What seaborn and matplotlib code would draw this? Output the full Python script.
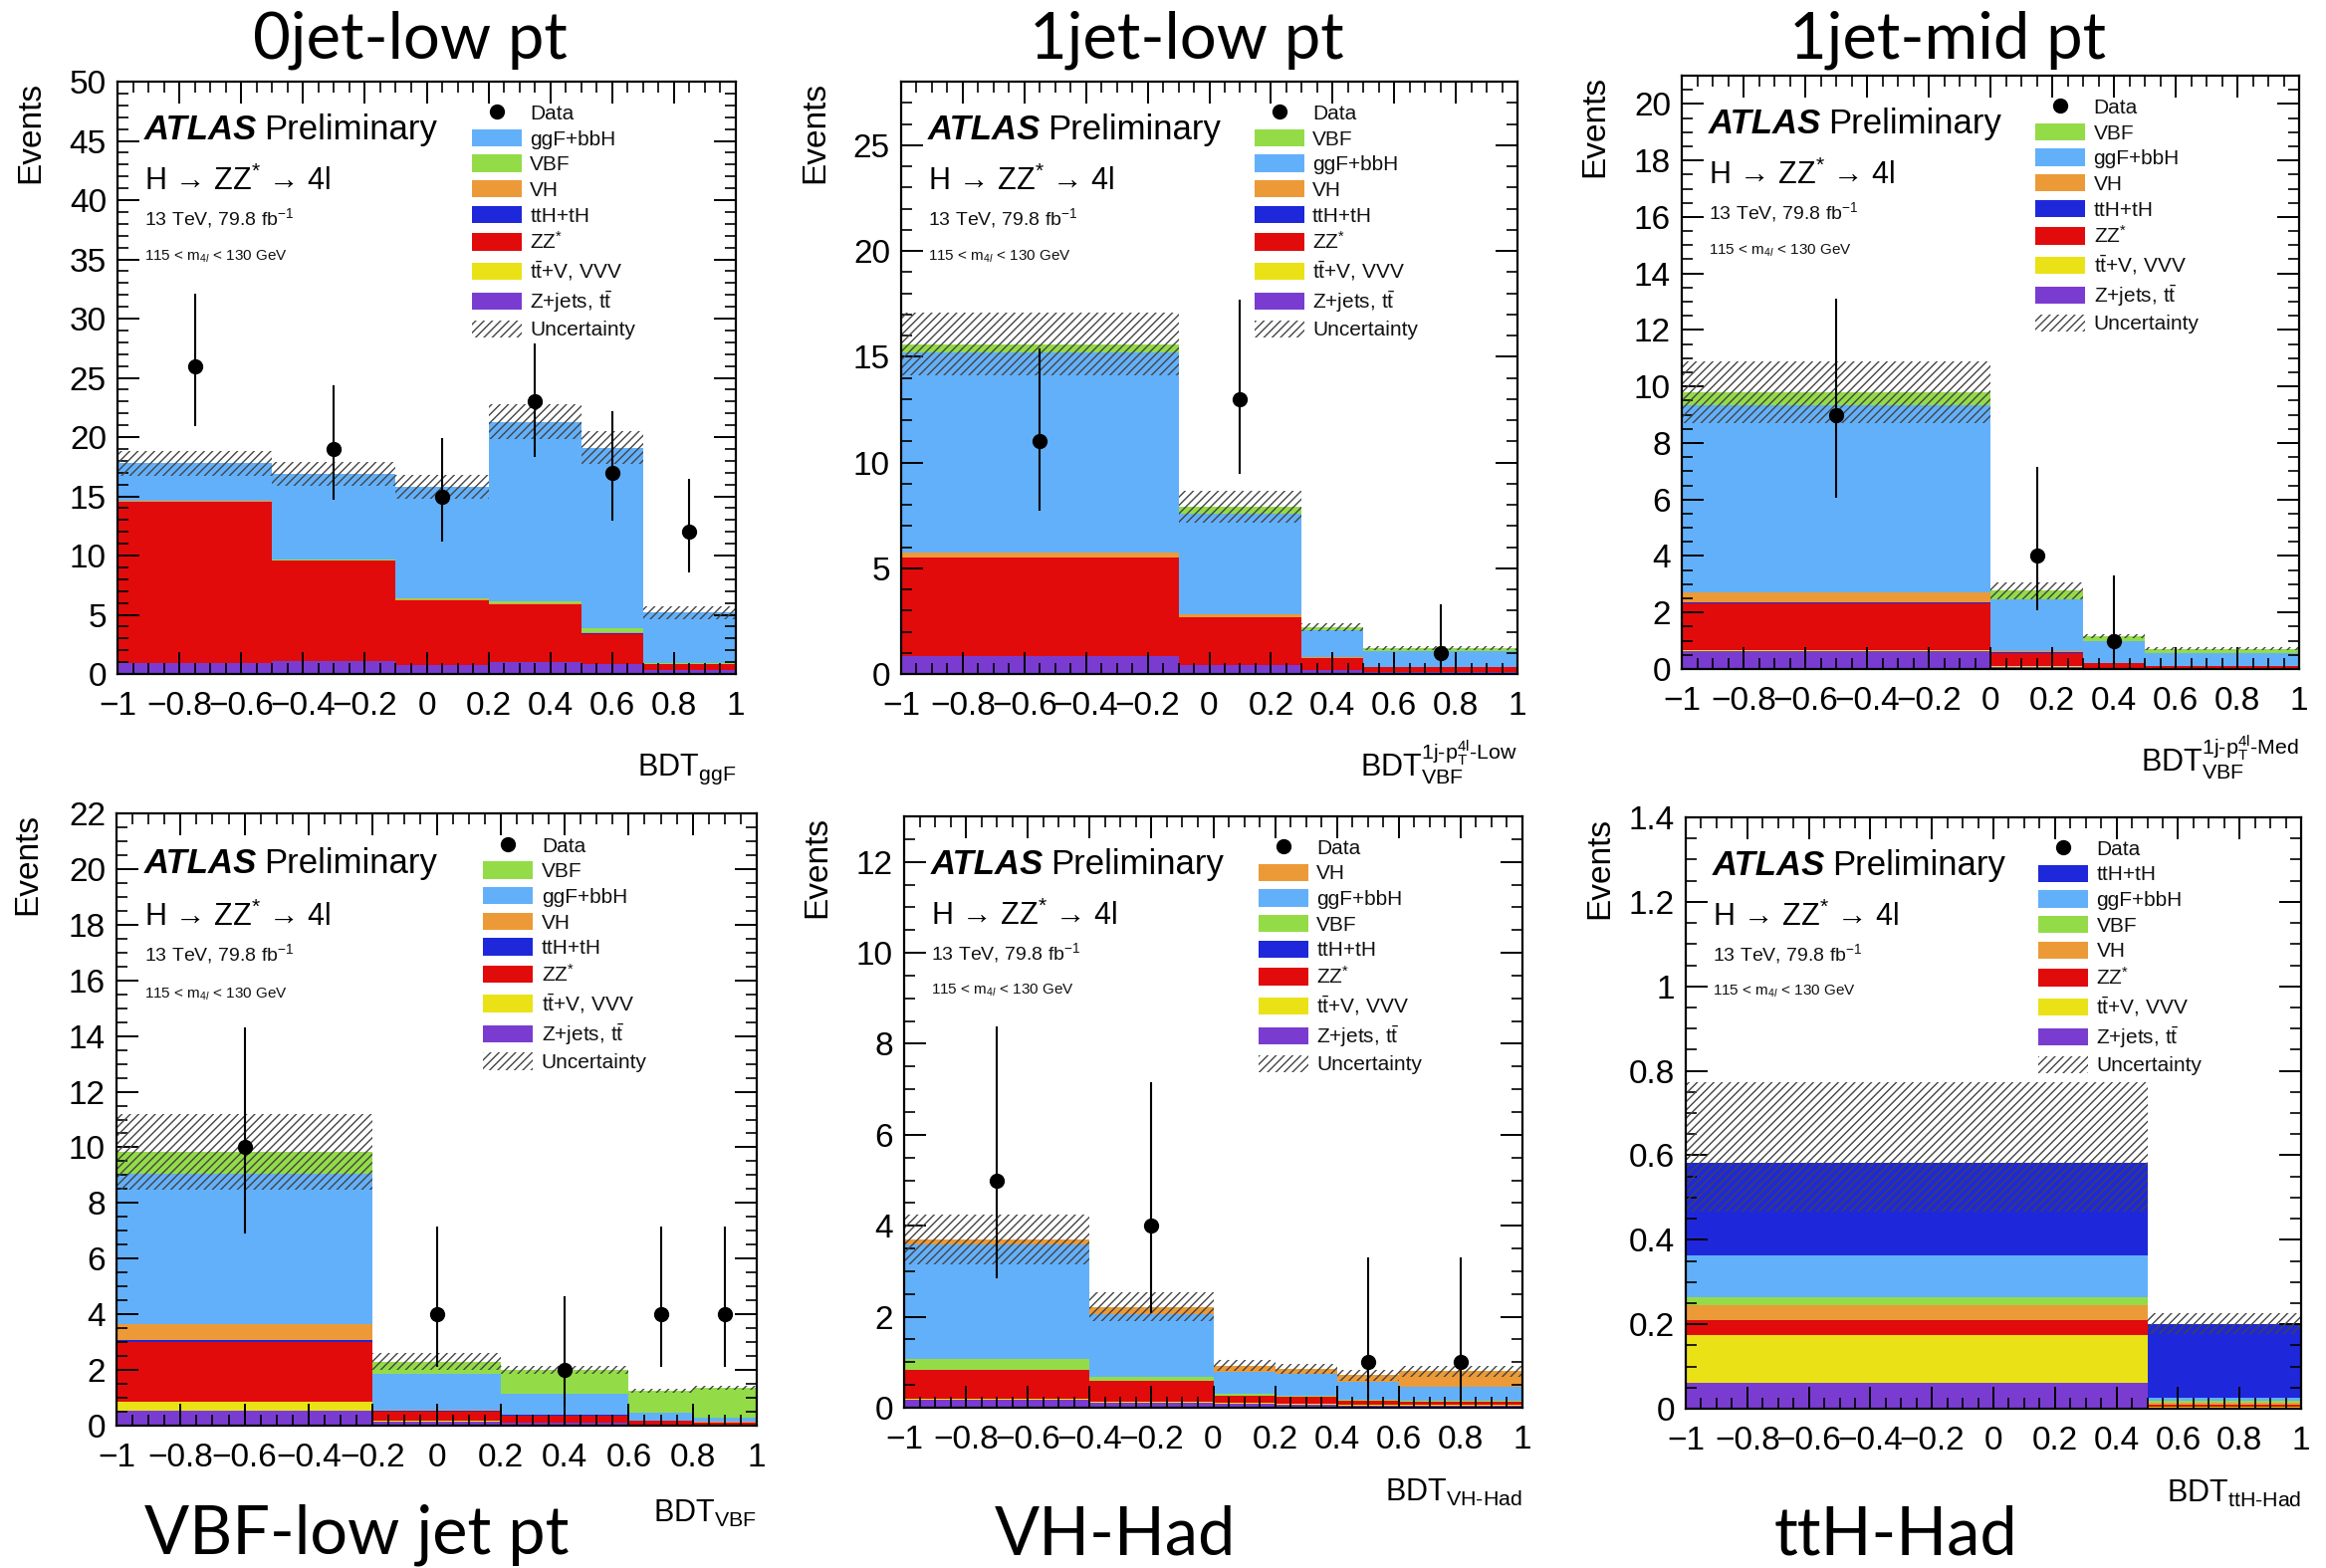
import numpy as np
import pandas as pd
import matplotlib
matplotlib.use("Agg")
import matplotlib.pyplot as plt
import seaborn as sns
from matplotlib.ticker import MultipleLocator, AutoMinorLocator, FuncFormatter
from matplotlib.patches import Patch
from matplotlib.lines import Line2D

# ---------------- data ----------------
colors = {"ggF": "#63B0FA", "VBF": "#93DC48", "VH": "#EC9A38", "ttH": "#1E28DA",
          "ZZ": "#E10B0B", "ttV": "#EAE217", "Zjets": "#7A3CD0"}
labels = {"ggF": "ggF+bbH", "VBF": "VBF", "VH": "VH", "ttH": "ttH+tH", "ZZ": "ZZ$^{*}$",
          "ttV": r"t$\bar{\mathrm{t}}$+V, VVV", "Zjets": r"Z+jets, t$\bar{\mathrm{t}}$"}

# Panel 1: 0jet-low pt
p1_edges = [-1, -0.5, -0.1, 0.2, 0.5, 0.7, 1]
p1_order = ["ggF", "VBF", "VH", "ttH", "ZZ", "ttV", "Zjets"]
p1_stack = {"ggF": [3.17, 7.21, 9.39, 15.18, 15.26, 4.27],
            "VBF": [0.05, 0.08, 0.10, 0.15, 0.35, 0.10],
            "VH": [0.03, 0.04, 0.05, 0.06, 0.08, 0.03],
            "ttH": [0.0, 0.0, 0.01, 0.01, 0.01, 0.0],
            "ZZ": [13.6, 8.44, 5.47, 4.87, 2.52, 0.44],
            "ttV": [0.02, 0.03, 0.03, 0.03, 0.02, 0.01],
            "Zjets": [0.93, 1.10, 0.75, 1.00, 0.86, 0.35]}
p1_unc_up = [1.05, 1.0, 1.0, 1.45, 1.4, 0.55]
p1_unc_dn = [1.05, 1.0, 1.0, 1.45, 1.4, 0.55]
p1_data = [26, 19, 15, 23, 17, 12]
p1_data_lo = [20.9, 14.7, 11.2, 18.3, 12.9, 8.6]
p1_data_hi = [32.1, 24.4, 19.9, 27.9, 22.2, 16.5]

# Panel 2: 1jet-low pt
p2_edges = [-1, -0.1, 0.3, 0.5, 1]
p2_order = ["VBF", "ggF", "VH", "ttH", "ZZ", "ttV", "Zjets"]
p2_stack = {"VBF": [0.40, 0.30, 0.15, 0.13],
            "ggF": [9.45, 4.77, 1.25, 0.75],
            "VH": [0.24, 0.13, 0.03, 0.02],
            "ttH": [0.01, 0.01, 0.0, 0.0],
            "ZZ": [4.63, 2.26, 0.59, 0.23],
            "ttV": [0.02, 0.01, 0.01, 0.0],
            "Zjets": [0.85, 0.42, 0.17, 0.10]}
p2_unc_up = [1.5, 0.75, 0.18, 0.08]
p2_unc_dn = [1.5, 0.75, 0.18, 0.08]
p2_data = [11, 13, 0, 1]
p2_data_lo = [7.7, 9.45, 0, 0.17]
p2_data_hi = [15.4, 17.7, 0, 3.3]

# Panel 3: 1jet-mid pt
p3_edges = [-1, 0, 0.3, 0.5, 1]
p3_order = ["VBF", "ggF", "VH", "ttH", "ZZ", "ttV", "Zjets"]
p3_stack = {"VBF": [0.45, 0.30, 0.17, 0.17],
            "ggF": [6.65, 1.85, 0.79, 0.44],
            "VH": [0.35, 0.04, 0.01, 0.01],
            "ttH": [0.02, 0.01, 0.0, 0.0],
            "ZZ": [1.65, 0.49, 0.16, 0.07],
            "ttV": [0.03, 0.01, 0.0, 0.0],
            "Zjets": [0.65, 0.08, 0.04, 0.03]}
p3_unc_up = [1.1, 0.3, 0.08, 0.06]
p3_unc_dn = [1.1, 0.3, 0.08, 0.06]
p3_data = [9, 4, 1, 0]
p3_data_lo = [6.07, 2.09, 0.17, 0]
p3_data_hi = [13.1, 7.17, 3.3, 0]

# Panel 4: VBF-low jet pt
p4_edges = [-1, -0.2, 0.2, 0.6, 0.8, 1]
p4_order = ["VBF", "ggF", "VH", "ttH", "ZZ", "ttV", "Zjets"]
p4_stack = {"VBF": [0.80, 0.45, 0.86, 0.80, 1.05],
            "ggF": [5.39, 1.29, 0.73, 0.27, 0.17],
            "VH": [0.56, 0.04, 0.03, 0.01, 0.01],
            "ttH": [0.10, 0.01, 0.01, 0.0, 0.0],
            "ZZ": [2.14, 0.34, 0.26, 0.13, 0.09],
            "ttV": [0.30, 0.02, 0.01, 0.0, 0.0],
            "Zjets": [0.55, 0.15, 0.10, 0.04, 0.03]}
p4_unc_up = [1.36, 0.3, 0.15, 0.08, 0.08]
p4_unc_dn = [1.36, 0.3, 0.15, 0.08, 0.08]
p4_data = [10, 4, 2, 4, 4]
p4_data_lo = [6.9, 2.1, 0.71, 2.1, 2.1]
p4_data_hi = [14.3, 7.16, 4.64, 7.16, 7.16]

# Panel 5: VH-Had
p5_edges = [-1, -0.4, 0, 0.2, 0.4, 0.6, 1]
p5_order = ["VH", "ggF", "VBF", "ttH", "ZZ", "ttV", "Zjets"]
p5_stack = {"VH": [0.12, 0.16, 0.14, 0.12, 0.15, 0.34],
            "ggF": [2.50, 1.38, 0.48, 0.47, 0.39, 0.31],
            "VBF": [0.24, 0.09, 0.03, 0.02, 0.02, 0.02],
            "ttH": [0.01, 0.01, 0.0, 0.0, 0.0, 0.0],
            "ZZ": [0.63, 0.45, 0.17, 0.16, 0.10, 0.07],
            "ttV": [0.02, 0.03, 0.02, 0.02, 0.01, 0.01],
            "Zjets": [0.18, 0.10, 0.08, 0.07, 0.05, 0.05]}
p5_unc_up = [0.54, 0.31, 0.12, 0.11, 0.12, 0.12]
p5_unc_dn = [0.54, 0.31, 0.12, 0.11, 0.12, 0.12]
p5_data = [5, 4, 0, 0, 1, 1]
p5_data_lo = [2.84, 2.08, 0, 0, 0.17, 0.17]
p5_data_hi = [8.38, 7.15, 0, 0, 3.3, 3.3]

# Panel 6: ttH-Had
p6_edges = [-1, 0.5, 1]
p6_order = ["ttH", "ggF", "VBF", "VH", "ZZ", "ttV", "Zjets"]
p6_stack = {"ttH": [0.220, 0.175],
            "ggF": [0.099, 0.008],
            "VBF": [0.018, 0.003],
            "VH": [0.037, 0.005],
            "ZZ": [0.034, 0.005],
            "ttV": [0.113, 0.003],
            "Zjets": [0.062, 0.002]}
p6_unc_up = [0.19, 0.025]
p6_unc_dn = [0.116, 0.025]
p6_data = [0, 0]
p6_data_lo = [0, 0]
p6_data_hi = [0, 0]

titles = ["0jet-low pt", "1jet-low pt", "1jet-mid pt", "VBF-low jet pt", "VH-Had", "ttH-Had"]
xlabels = [r"BDT$_{\mathrm{ggF}}$",
           r"BDT$_{\mathrm{VBF}}^{\mathrm{1j}\text{-}\mathrm{p}_{\mathrm{T}}^{\mathrm{4l}}\text{-}\mathrm{Low}}$",
           r"BDT$_{\mathrm{VBF}}^{\mathrm{1j}\text{-}\mathrm{p}_{\mathrm{T}}^{\mathrm{4l}}\text{-}\mathrm{Med}}$",
           r"BDT$_{\mathrm{VBF}}$", r"BDT$_{\mathrm{VH}\text{-}\mathrm{Had}}$", r"BDT$_{\mathrm{ttH}\text{-}\mathrm{Had}}$"]
ymax = [50, 28, 21, 22, 13, 1.4]
ymajor = [5, 5, 2, 2, 2, 0.2]
yminor_n = [5, 5, 4, 4, 4, 4]

# ---------------- style ----------------
sns.set_theme(style="ticks")
plt.rcParams['font.family'] = ['Liberation Sans', 'DejaVu Sans']
plt.rcParams['mathtext.fontset'] = 'custom'
plt.rcParams['mathtext.rm'] = 'Liberation Sans'
plt.rcParams['mathtext.it'] = 'Liberation Sans:italic'
plt.rcParams['mathtext.bf'] = 'Liberation Sans:bold'
plt.rcParams['hatch.linewidth'] = 1.0
plt.rcParams['axes.axisbelow'] = False

W, H = 2336, 1575
fig = plt.figure(figsize=(W / 100, H / 100), dpi=100)
fig.patch.set_facecolor("white")

rects_px = [(118, 739, 82, 677), (905, 1524, 82, 677), (1689, 2309, 76, 672),
            (117, 760, 817, 1432), (908, 1529, 820, 1414), (1693, 2311, 821, 1415)]

panels = [
    (p1_edges, p1_order, p1_stack, p1_unc_up, p1_unc_dn, p1_data, p1_data_lo, p1_data_hi),
    (p2_edges, p2_order, p2_stack, p2_unc_up, p2_unc_dn, p2_data, p2_data_lo, p2_data_hi),
    (p3_edges, p3_order, p3_stack, p3_unc_up, p3_unc_dn, p3_data, p3_data_lo, p3_data_hi),
    (p4_edges, p4_order, p4_stack, p4_unc_up, p4_unc_dn, p4_data, p4_data_lo, p4_data_hi),
    (p5_edges, p5_order, p5_stack, p5_unc_up, p5_unc_dn, p5_data, p5_data_lo, p5_data_hi),
    (p6_edges, p6_order, p6_stack, p6_unc_up, p6_unc_dn, p6_data, p6_data_lo, p6_data_hi),
]


def tick_fmt(v, p):
    v = round(v, 6)
    if v == 0:
        v = 0.0
    return f"{v:g}".replace("-", "\u2212")


fmt = FuncFormatter(tick_fmt)
hatch_col = "#444444"

for i, (edges, order, stack, uup, udn, data, dlo, dhi) in enumerate(panels):
    l, r, t, b = rects_px[i]
    ax = fig.add_axes([l / W, 1 - b / H, (r - l) / W, (b - t) / H])
    edges_arr = np.array(edges, float)
    centers = 0.5 * (edges_arr[:-1] + edges_arr[1:])
    widths = np.diff(edges_arr)
    rows = []
    for proc in order:
        for c, w in zip(centers, stack[proc]):
            rows.append({"x": float(c), "w": float(w), "proc": proc})
    df = pd.DataFrame(rows)
    sns.histplot(data=df, x="x", weights="w", hue="proc", hue_order=order, bins=list(edges),
                 multiple="stack", element="step", fill=True, alpha=1, linewidth=0,
                 palette=colors, legend=False, ax=ax)
    total = np.sum([np.array(stack[p]) for p in order], axis=0)
    uup = np.array(uup); udn = np.array(udn)
    ax.bar(centers, uup + udn, bottom=total - udn, width=widths, align="center",
           facecolor="none", edgecolor=hatch_col, hatch="////", linewidth=0, zorder=3)
    data = np.array(data, float); dlo = np.array(dlo); dhi = np.array(dhi)
    m = data > 0
    if m.any():
        ax.errorbar(centers[m], data[m], yerr=[data[m] - dlo[m], dhi[m] - data[m]], fmt="o",
                    color="black", ms=10, elinewidth=1.5, capsize=0, zorder=5)

    ax.set_axisbelow(False)
    ax.set_xlim(-1, 1)
    ax.set_ylim(0, ymax[i])
    ax.xaxis.set_major_locator(MultipleLocator(0.2))
    ax.xaxis.set_minor_locator(AutoMinorLocator(4))
    ax.yaxis.set_major_locator(MultipleLocator(ymajor[i]))
    ax.yaxis.set_minor_locator(AutoMinorLocator(yminor_n[i]))
    ax.xaxis.set_major_formatter(fmt)
    ax.yaxis.set_major_formatter(fmt)
    ax.tick_params(which="both", direction="in", top=True, right=True, labelsize=24,
                   color="black", labelcolor="black")
    ax.tick_params(which="major", length=16, width=1.4)
    ax.tick_params(which="minor", length=8, width=1.2)
    ax.tick_params(axis="x", which="major", pad=12)
    ax.tick_params(axis="y", which="major", pad=8)
    for s in ax.spines.values():
        s.set_linewidth(1.6); s.set_color("black"); s.set_visible(True); s.set_zorder(6)
    ax.set_facecolor("white")

    ax.set_ylabel("Events", fontsize=24, loc="top", color="black")
    ax.yaxis.set_label_coords(-0.115, 1.0)
    ax.set_xlabel(xlabels[i], fontsize=22, loc="right", va="baseline", color="black")
    ax.xaxis.set_label_coords(1.0, -0.172 if i < 3 else -0.158)

    tA = ax.text(0.043, 0.918, "ATLAS", transform=ax.transAxes, fontsize=25,
                 fontweight="bold", fontstyle="italic", va="center", ha="left", color="black")
    ax.annotate("Preliminary", xy=(1, 0.5), xycoords=tA, xytext=(5, 0),
                textcoords="offset points", fontsize=25, va="center", ha="left", color="black")
    ax.text(0.043, 0.831, "H \u2192 ZZ$^{*}$ \u2192 4l", transform=ax.transAxes,
            fontsize=22, va="center", ha="left", color="black")
    ax.text(0.043, 0.770, r"13 TeV, 79.8 fb$^{-1}$", transform=ax.transAxes,
            fontsize=14, va="center", ha="left", color="#111111")
    ax.text(0.043, 0.705, r"115 < m$_{4l}$ < 130 GeV", transform=ax.transAxes,
            fontsize=11, va="center", ha="left", color="#111111")

    handles = [Line2D([], [], marker="o", color="black", ls="none", ms=10)]
    handles += [Patch(facecolor=colors[p], edgecolor="none") for p in order]
    handles += [Patch(facecolor="white", edgecolor=hatch_col, hatch="////", linewidth=0)]
    labs = ["Data"] + [labels[p] for p in order] + ["Uncertainty"]
    ax.legend(handles, labs, loc="upper left", bbox_to_anchor=(0.573, 0.963), frameon=False,
              fontsize=15, handlelength=2.4, handleheight=0.9, labelspacing=0.28,
              handletextpad=0.4, borderpad=0, borderaxespad=0, labelcolor="#111111")

# titles
title_pos = [(412, 40, 47), (1192, 40, 47), (1956, 40, 47),
             (358, 1542, 48), (1120, 1542, 48), (1904, 1542, 48)]
for (x, y, fs), ttl in zip(title_pos, titles):
    fig.text(x / W, 1 - y / H, ttl, ha="center", va="center", fontsize=fs,
             family=["Lato", "DejaVu Sans"], color="black")

fig.savefig("out.png", dpi=100, facecolor="white")
